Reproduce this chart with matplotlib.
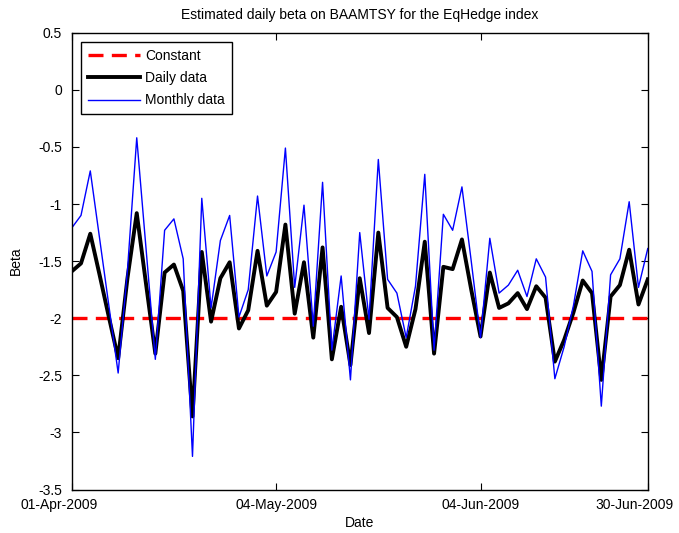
import numpy as np
import pandas as pd
import matplotlib
matplotlib.use('Agg')
import matplotlib.pyplot as plt
from matplotlib.transforms import ScaledTranslation

# trading days, Apr-Jun 2009 (US calendar: Good Friday and Memorial Day off)
dates = pd.bdate_range('2009-04-01', '2009-06-30')
dates = dates[~dates.isin(pd.to_datetime(['2009-04-10', '2009-05-25']))]

daily_beta = [
    -1.59, -1.52, -1.26, -1.62, -1.99, -2.35, -1.65, -1.08, -1.70, -2.31,
    -1.60, -1.53, -1.76, -2.86, -1.42, -2.03, -1.65, -1.51, -2.09, -1.93,
    -1.41, -1.89, -1.77, -1.18, -1.96, -1.51, -2.17, -1.38, -2.36, -1.90,
    -2.41, -1.65, -2.13, -1.25, -1.91, -1.99, -2.25, -1.92, -1.33, -2.31,
    -1.55, -1.57, -1.31, -1.75, -2.16, -1.60, -1.91, -1.87, -1.78, -1.92,
    -1.72, -1.82, -2.38, -2.19, -1.95, -1.67, -1.78, -2.54, -1.81, -1.71,
    -1.40, -1.88, -1.66,
]
monthly_beta = [
    -1.21, -1.10, -0.71, -1.30, -1.89, -2.48, -1.58, -0.42, -1.39, -2.36,
    -1.23, -1.13, -1.48, -3.21, -0.95, -1.91, -1.32, -1.10, -1.99, -1.75,
    -0.93, -1.63, -1.42, -0.51, -1.73, -1.01, -2.07, -0.81, -2.28, -1.63,
    -2.54, -1.25, -2.01, -0.61, -1.66, -1.78, -2.17, -1.72, -0.74, -2.28,
    -1.09, -1.23, -0.85, -1.50, -2.17, -1.30, -1.78, -1.71, -1.58, -1.81,
    -1.48, -1.64, -2.53, -2.25, -1.89, -1.41, -1.59, -2.77, -1.62, -1.48,
    -0.98, -1.73, -1.39,
]
constant_beta = -2.0
tick_dates = ['01-Apr-2009', '04-May-2009', '04-Jun-2009', '30-Jun-2009']

plt.rcParams['font.family'] = ['Liberation Sans', 'DejaVu Sans']
plt.rcParams['font.size'] = 10

x = np.arange(len(dates))
tick_pos = [list(dates.strftime('%d-%b-%Y')).index(d) for d in tick_dates]

fig = plt.figure(figsize=(6.79, 5.33), dpi=100)
ax = fig.add_axes([0.1056, 0.0816, 0.8484, 0.857])

ax.plot([x[0], x[-1]], [constant_beta, constant_beta], color='red',
        linestyle=(0, (4.5, 2.5)), linewidth=2.4, label='Constant')
ax.plot(x, daily_beta, color='black', linewidth=2.8, label='Daily data')
ax.plot(x, monthly_beta, color='blue', linewidth=1.0, label='Monthly data')

ax.set_xlim(x[0], x[-1])
ax.set_ylim(-3.5, 0.5)
ax.set_xticks(tick_pos)
ax.set_xticklabels(tick_dates)
ax.set_yticks(np.arange(-3.5, 0.51, 0.5))
ax.set_yticklabels(['%g' % v for v in np.arange(-3.5, 0.51, 0.5)])
ax.tick_params(direction='in', top=True, right=True, length=5, width=0.8)
ax.tick_params(axis='y', pad=7)
ax.tick_params(axis='x', pad=6)
for s in ax.spines.values():
    s.set_linewidth(1.0)

# matlab pushes the end labels inward a bit
shift = ScaledTranslation(-13 / 100, 0, fig.dpi_scale_trans)
xl = ax.get_xticklabels()
for lab in (xl[0], xl[-1]):
    lab.set_transform(lab.get_transform() + shift)

ax.set_xlabel('Date', labelpad=3)
ax.set_ylabel('Beta', labelpad=11)
ax.set_title('Estimated daily beta on BAAMTSY for the EqHedge index', fontsize=10, pad=10)

leg = ax.legend(loc='upper left', fancybox=False, edgecolor='black',
                framealpha=1, borderaxespad=0.65, handlelength=3.8,
                handletextpad=0.35, labelspacing=0.6, borderpad=0.5)
leg.get_frame().set_linewidth(1.0)

fig.savefig('out.png', dpi=100)
